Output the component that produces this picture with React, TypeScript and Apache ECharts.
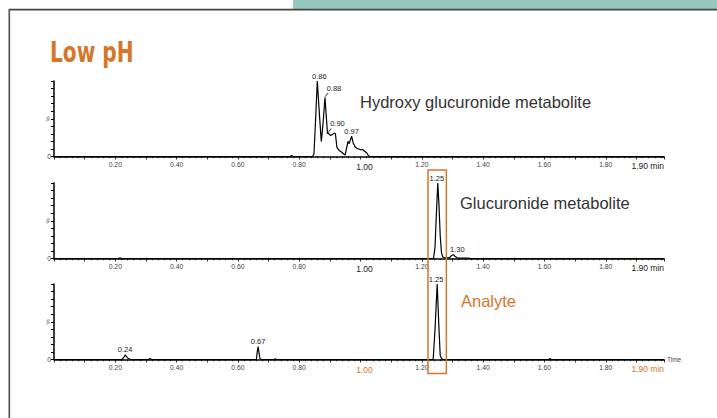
import React, { useEffect, useRef } from "react";
import * as echarts from "echarts";

// ---- data ----
const TIME_MIN = 0;
const TIME_MAX = 1.99;
const TIME_END_LABEL = 1.9;
const HIGHLIGHT_RANGE = [1.22, 1.28];

const panelTitles = ["Hydroxy glucuronide metabolite", "Glucuronide metabolite", "Analyte"];
const endLabel = "1.90 min";
const axisName = "Time";
const yUnit = "%";

// [time (min), relative intensity (%)]
const traceHydroxy: number[][] = [
  [0, 0], [0.77, 0], [0.775, 1.5], [0.78, 0], [0.843, 0], [0.848, 3], [0.853, 45], [0.859, 100],
  [0.866, 55], [0.872, 20], [0.878, 45], [0.884, 78], [0.888, 55], [0.892, 31], [0.897, 30],
  [0.902, 28], [0.908, 29], [0.914, 31], [0.918, 30], [0.923, 12], [0.930, 8], [0.938, 6],
  [0.946, 3], [0.950, 2], [0.955, 12], [0.959, 20], [0.963, 17], [0.967, 22], [0.971, 27],
  [0.976, 18], [0.982, 13], [0.988, 11], [0.994, 10], [1.0, 9], [1.008, 9], [1.013, 7],
  [1.02, 5], [1.026, 1], [1.03, 0], [1.99, 0],
];
const traceGlucuronide: number[][] = [
  [0, 0], [0.21, 0], [0.215, 1], [0.22, 0], [1.238, 0], [1.243, 15], [1.247, 55], [1.252, 100],
  [1.256, 70], [1.26, 30], [1.264, 8], [1.268, 2], [1.275, 1], [1.29, 1], [1.297, 4], [1.303, 5],
  [1.308, 3], [1.315, 1], [1.32, 0.5], [1.35, 0.5], [1.36, 0], [1.99, 0],
];
const traceAnalyte: number[][] = [
  [0, 0], [0.222, 0], [0.228, 3], [0.232, 6], [0.236, 4], [0.24, 2], [0.245, 1], [0.25, 0],
  [0.308, 0], [0.313, 1.5], [0.318, 0], [0.66, 0], [0.663, 10], [0.666, 17], [0.669, 8],
  [0.672, 1], [0.675, 0], [0.72, 0], [0.722, 1], [0.725, 0], [1.237, 0], [1.243, 40],
  [1.25, 100], [1.256, 40], [1.26, 5], [1.265, 1], [1.27, 0], [1.615, 0], [1.618, 1.5],
  [1.622, 0], [1.99, 0],
];

// [label, time, intensity]
const peaksHydroxy: [string, number, number][] = [
  ["0.86", 0.859, 100], ["0.88", 0.884, 78], ["0.90", 0.892, 31], ["0.97", 0.971, 27],
];
const peaksGlucuronide: [string, number, number][] = [
  ["1.25", 1.252, 100], ["1.30", 1.303, 5],
];
const peaksAnalyte: [string, number, number][] = [
  ["0.24", 0.232, 6], ["0.67", 0.666, 17], ["1.25", 1.25, 100],
];
// leader lines from peak to label: [[t1, v1], [t2, v2]]
const leadersHydroxy: number[][][] = [
  [[0.884, 79], [0.894, 84]],
  [[0.893, 31], [0.904, 37]],
];

const traces = [traceHydroxy, traceGlucuronide, traceAnalyte];
const peaks = [peaksHydroxy, peaksGlucuronide, peaksAnalyte];
const leaders = [leadersHydroxy, [], []];

// ---- style ----
const ORANGE = "#D5762A";
const LABEL_COLOR = "#222";
const FONT = "'Liberation Sans', Arial, sans-serif";
const GRID_TOPS = [81, 183, 284];
const GRID_HEIGHT = 75.5;
const labelOffsets: number[][][] = [
  [[2, 0], [9, -4], [10, -5], [0, 0]],
  [[-1, 0], [4, 0]],
  [[0, 0], [0, 0], [-1, 0]],
];

export default function App() {
  const ref = useRef<HTMLDivElement>(null);
  useEffect(() => {
    if (!ref.current) return;
    const chart = echarts.init(ref.current, null, { renderer: "svg" });
    const grids = GRID_TOPS.map((top) => ({ left: 54, right: 53, top, height: GRID_HEIGHT }));
    const xAxes = traces.map((_, i) => ({
      gridIndex: i,
      type: "value",
      min: TIME_MIN,
      max: TIME_MAX,
      interval: 0.1,
      name: i === 2 ? axisName : "",
      nameLocation: "end",
      nameGap: 3,
      nameTextStyle: { fontSize: 6.5, color: "#444", fontFamily: FONT, verticalAlign: "middle" },
      axisLine: { show: true, onZero: false, lineStyle: { color: "#000", width: 1.5 } },
      axisTick: { show: true, length: 3, lineStyle: { color: "#000", width: 0.8 } },
      minorTick: { show: true, splitNumber: 5, length: 1.8, lineStyle: { color: "#000", width: 0.7 } },
      splitLine: { show: false },
      minorSplitLine: { show: false },
      axisLabel: {
        show: true,
        margin: 4,
        fontSize: 6.8,
        color: "#444",
        fontFamily: FONT,
        showMinLabel: false,
        showMaxLabel: false,
        formatter: (v: number) => {
          const k = Math.round(v * 10);
          if (k === 0 || k % 2 !== 0) return "";
          if (k === 10) return "{big|1.00}";
          return v.toFixed(2);
        },
        rich: {
          big: { fontSize: 8.5, color: i === 2 ? ORANGE : "#222", fontFamily: FONT, padding: [2, 0, 0, 8] },
        },
      },
    }));
    const yAxes = traces.map((_, i) => ({
      gridIndex: i,
      type: "value",
      min: 0,
      max: 100,
      interval: 10,
      axisLine: { show: true, onZero: false, lineStyle: { color: "#000", width: 1.5 } },
      axisTick: { show: true, length: 3, lineStyle: { color: "#000", width: 1 } },
      splitLine: { show: false },
      axisLabel: {
        fontSize: 6.8,
        color: "#444",
        fontFamily: FONT,
        margin: 3,
        formatter: (v: number) => (v === 0 ? "0" : ""),
      },
    }));
    const labelStyle = {
      show: true,
      position: "top",
      distance: 1,
      fontSize: 7.5,
      color: LABEL_COLOR,
      textBorderWidth: 0,
      fontFamily: FONT,
    };
    const series = traces.map((data, i) => ({
      type: "line",
      xAxisIndex: i,
      yAxisIndex: i,
      data,
      color: "#000",
      symbol: "none",
      lineStyle: { color: "#000", width: 1.2 },
      markPoint: {
        symbol: "circle",
        symbolSize: 0,
        silent: true,
        itemStyle: { color: "#000" },
        label: { ...labelStyle, formatter: (p: any) => p.name },
        data: peaks[i].map(([name, t, v], j) => ({
          name,
          coord: [t, v],
          label: { ...labelStyle, offset: labelOffsets[i][j], formatter: name },
        })),
      },
      markLine: {
        silent: true,
        symbol: "none",
        label: { show: false },
        lineStyle: { color: "#000", width: 0.8, type: "solid" },
        data: leaders[i].map(([a, b]) => [{ coord: a }, { coord: b }]),
      },
    }));

    chart.setOption({
      animation: false,
      backgroundColor: "#fff",
      grid: grids,
      xAxis: xAxes,
      yAxis: yAxes,
      series,
    });

    const xEnd = chart.convertToPixel({ xAxisIndex: 0 }, TIME_END_LABEL) as number;
    const hx1 = chart.convertToPixel({ xAxisIndex: 1 }, HIGHLIGHT_RANGE[0]) as number;
    const hx2 = chart.convertToPixel({ xAxisIndex: 1 }, HIGHLIGHT_RANGE[1]) as number;
    const hTop = (chart.convertToPixel({ yAxisIndex: 1 }, 100) as number) - 13;
    const hBot = (chart.convertToPixel({ yAxisIndex: 2 }, 0) as number) + 14;
    const baselines = traces.map((_, i) => chart.convertToPixel({ yAxisIndex: i }, 0) as number);
    const mids = traces.map((_, i) => chart.convertToPixel({ yAxisIndex: i }, 50) as number);
    const tops = traces.map((_, i) => chart.convertToPixel({ yAxisIndex: i }, 100) as number);

    const graphic: any[] = [
      { type: "rect", shape: { x: 293, y: 0, width: 424, height: 9 }, style: { fill: "#96C8C0" } },
      { type: "line", shape: { x1: 9, y1: 9.6, x2: 717, y2: 9.6 }, style: { stroke: "#444", lineWidth: 1.6 } },
      { type: "line", shape: { x1: 9.3, y1: 9, x2: 9.3, y2: 418 }, style: { stroke: "#555", lineWidth: 1.7 } },
      {
        type: "text",
        x: 50,
        y: 52,
        scaleX: 0.8,
        style: {
          text: "Low pH",
          fontSize: 28,
          fontWeight: "bold",
          fontFamily: "'DejaVu Sans Condensed', 'DejaVu Sans', sans-serif",
          fill: ORANGE,
          verticalAlign: "middle",
        },
      },
      {
        type: "rect",
        shape: { x: hx1, y: hTop, width: hx2 - hx1, height: hBot - hTop },
        style: { fill: "none", stroke: ORANGE, lineWidth: 1.5 },
        z: 10,
      },
    ];
    const titleX = [360, 460, 461];
    const titleDy = [21, 20, 17];
    panelTitles.forEach((t, i) => {
      graphic.push({
        type: "text",
        x: titleX[i],
        y: tops[i] + titleDy[i],
        style: {
          text: t,
          fontSize: 16.5,
          fontFamily: FONT,
          fill: i === 2 ? ORANGE : "#333",
          verticalAlign: "middle",
        },
      });
    });
    baselines.forEach((b, i) => {
      graphic.push({
        type: "text",
        x: xEnd - 5,
        y: b + 9.5,
        style: {
          text: endLabel,
          fontSize: 8.5,
          fontFamily: FONT,
          fill: i === 2 ? ORANGE : "#222",
          verticalAlign: "middle",
        },
      });
      graphic.push({
        type: "text",
        x: 47.5,
        y: mids[i],
        rotation: Math.PI / 2,
        style: {
          text: yUnit,
          fontSize: 6,
          fontFamily: FONT,
          fill: "#555",
          align: "center",
          verticalAlign: "middle",
        },
      });
    });
    chart.setOption({ graphic });

    return () => chart.dispose();
  }, []);
  return (
    <div
      ref={ref}
      style={{ position: "fixed", left: 0, top: 0, width: 717, height: 418, background: "#fff" }}
    />
  );
}
